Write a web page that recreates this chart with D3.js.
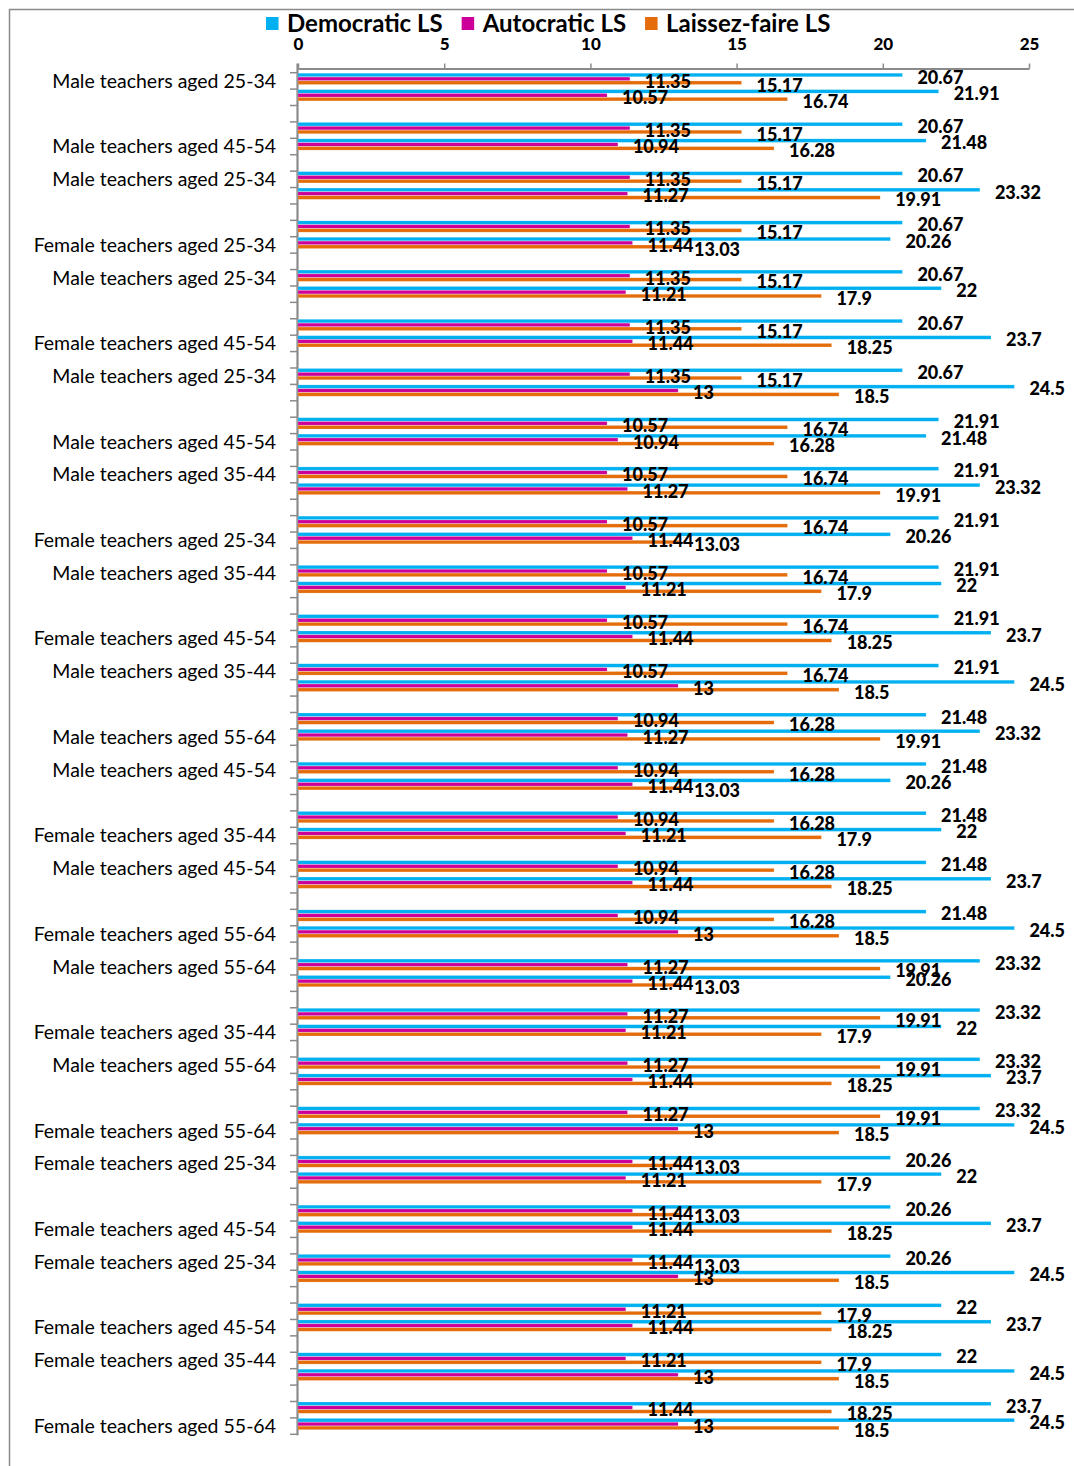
<!DOCTYPE html>
<html>
<head>
<meta charset="utf-8">
<script src="https://cdn.jsdelivr.net/npm/d3@7"></script>
<style>
  html, body { margin: 0; padding: 0; background: #fff; }
  svg { display: block; }
</style>
</head>
<body>
<svg id="chart" width="1074" height="1466"></svg>
<script>
// Teacher groups and their mean scores on each leadership-style scale
const groups = [
  "Male teachers aged 25-34",
  "Male teachers aged 35-44",
  "Male teachers aged 45-54",
  "Male teachers aged 55-64",
  "Female teachers aged 25-34",
  "Female teachers aged 35-44",
  "Female teachers aged 45-54",
  "Female teachers aged 55-64"
];
const seriesNames = ["Democratic LS", "Autocratic LS", "Laissez-faire LS"];
const democratic   = [20.67, 21.91, 21.48, 23.32, 20.26, 22, 23.7, 24.5];
const autocratic   = [11.35, 10.57, 10.94, 11.27, 11.44, 11.21, 11.44, 13];
const laissezFaire = [15.17, 16.74, 16.28, 19.91, 13.03, 17.9, 18.25, 18.5];
const xTicks = [0, 5, 10, 15, 20, 25];

const colors = ["#00B0F0", "#CC0099", "#E46C0A"];
const seriesValues = [democratic, autocratic, laissezFaire];

// Every pairwise comparison of two groups: two rows, then a blank spacer row
const slots = [];
for (let a = 0; a < groups.length; a++) {
  for (let b = a + 1; b < groups.length; b++) {
    slots.push({ group: a });
    slots.push({ group: b });
    slots.push({ group: null });
  }
}
slots.pop(); // no spacer after the final pair
slots.forEach((s, i) => { s.id = i; });

const svg = d3.select("#chart");

// Outer chart frame
svg.append("rect")
  .attr("x", 9.5).attr("y", 9.5)
  .attr("width", 1100).attr("height", 1500)
  .attr("fill", "#fff")
  .attr("stroke", "#8a8a8a").attr("stroke-width", 1.5);

const plot = { left: 298, right: 1029, top: 72.7, bottom: 1434.3, axisY: 68.5 };

const x = d3.scaleLinear().domain([0, 25]).range([plot.left, plot.right]);
const y = d3.scaleBand().domain(slots.map(s => s.id)).range([plot.top, plot.bottom]).paddingInner(0).paddingOuter(0);
const step = y.step();
const inner = d3.scaleBand().domain(d3.range(3)).range([0.5, step * 0.72]).paddingInner(0.08);

const fontCat = "Lato, 'Open Sans', sans-serif";

// Value axis along the top
const xAxis = d3.axisTop(x).tickValues(xTicks).tickSize(5).tickPadding(14).tickSizeOuter(0);
const gx = svg.append("g").attr("transform", `translate(0,${plot.axisY})`).call(xAxis);
gx.select(".domain").attr("stroke", "#8a8a8a").attr("stroke-width", 2.2);
gx.selectAll(".tick line").attr("stroke", "#8a8a8a").attr("stroke-width", 1.5);
gx.selectAll(".tick text")
  .attr("fill", "#000")
  .style("font-family", fontCat).style("font-weight", "900").style("font-size", "17px");

// Category axis: ticks between rows
const gy = svg.append("g");
gy.append("line")
  .attr("x1", plot.left - 0.5).attr("x2", plot.left - 0.5)
  .attr("y1", plot.axisY - 5).attr("y2", plot.bottom + 1)
  .attr("stroke", "#8a8a8a").attr("stroke-width", 2.2);
const boundaries = slots.map(s => y(s.id)).concat([plot.bottom]);
gy.selectAll("line.tk").data(boundaries).join("line")
  .attr("class", "tk")
  .attr("x1", plot.left - 8).attr("x2", plot.left)
  .attr("y1", d => d).attr("y2", d => d)
  .attr("stroke", "#8a8a8a").attr("stroke-width", 1.5);

// Every second category carries its label
gy.selectAll("text.cat")
  .data(slots.filter(s => s.id % 2 === 0 && s.group !== null))
  .join("text")
  .attr("class", "cat")
  .attr("x", 276)
  .attr("y", s => y(s.id) + step / 2)
  .attr("dy", "0.35em")
  .attr("text-anchor", "end")
  .attr("fill", "#000")
  .style("font-family", fontCat).style("font-size", "19.5px")
  .text(s => groups[s.group]);

// Bars
const rows = slots.filter(s => s.group !== null);
const barData = [];
rows.forEach(s => {
  seriesValues.forEach((vals, k) => {
    barData.push({ slot: s.id, series: k, value: vals[s.group] });
  });
});

svg.append("g").selectAll("rect")
  .data(barData).join("rect")
  .attr("x", x(0))
  .attr("y", d => y(d.slot) + inner(d.series))
  .attr("width", d => x(d.value) - x(0))
  .attr("height", inner.bandwidth())
  .attr("fill", d => colors[d.series])
  .attr("stroke", "rgba(255,255,255,0.35)")
  .attr("stroke-width", 0.5);

// Value labels beside each bar end
svg.append("g").selectAll("text")
  .data(barData).join("text")
  .attr("x", d => x(d.value) + 15)
  .attr("y", d => y(d.slot) + inner(d.series) + inner.bandwidth() / 2 + 2.5)
  .attr("dy", "0.35em")
  .attr("fill", "#000")
  .style("font-family", fontCat).style("font-weight", "900").style("font-size", "18px")
  .text(d => String(d.value));

// Legend across the top
const legend = svg.append("g").attr("transform", "translate(266,23.5)");
let lx = 0;
seriesNames.forEach((name, k) => {
  const item = legend.append("g").attr("transform", `translate(${lx},0)`);
  item.append("rect").attr("x", 0).attr("y", -6.5).attr("width", 12.5).attr("height", 13).attr("fill", colors[k]);
  const t = item.append("text")
    .attr("x", 21).attr("y", 0).attr("dy", "0.35em")
    .attr("fill", "#000")
    .style("font-family", fontCat).style("font-weight", "700").style("font-size", "24px")
    .text(name);
  lx += 21 + t.node().getComputedTextLength() + 19;
});
</script>
</body>
</html>
